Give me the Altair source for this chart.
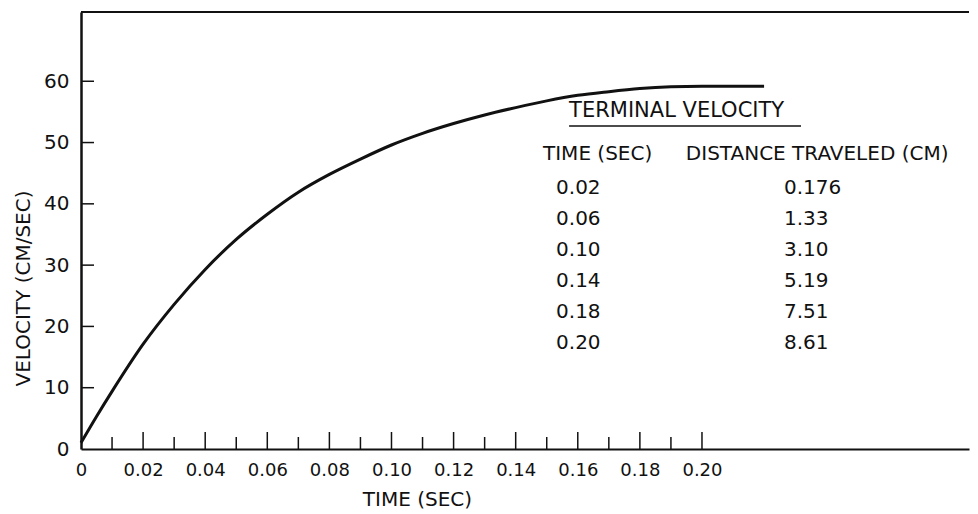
import altair as alt
import pandas as pd

# ---- data ----
time_s = [0.0, 0.005, 0.01, 0.02, 0.03, 0.04, 0.05, 0.06, 0.07, 0.08, 0.09, 0.10,
          0.11, 0.12, 0.13, 0.14, 0.15, 0.16, 0.17, 0.18, 0.19, 0.20, 0.21, 0.22]
velocity = [1.0, 5.3, 9.4, 17.1, 23.6, 29.3, 34.2, 38.3, 41.9, 44.8, 47.3, 49.6,
            51.5, 53.1, 54.5, 55.7, 56.8, 57.7, 58.3, 58.8, 59.1, 59.2, 59.2, 59.2]

x_label_values = [0.0, 0.02, 0.04, 0.06, 0.08, 0.10, 0.12, 0.14, 0.16, 0.18, 0.20]
x_minor_ticks = [0.01, 0.03, 0.05, 0.07, 0.09, 0.11, 0.13, 0.15, 0.17, 0.19]
x_major_ticks = [0.02, 0.04, 0.06, 0.08, 0.10, 0.12, 0.14, 0.16, 0.18, 0.20]
y_label_values = [0, 10, 20, 30, 40, 50, 60]
y_ticks = [10, 20, 30, 40, 50, 60]

table_title = "TERMINAL VELOCITY"
table_headers = ["TIME (SEC)", "DISTANCE TRAVELED (CM)"]
table_time = ["0.02", "0.06", "0.10", "0.14", "0.18", "0.20"]
table_distance = ["0.176", "1.33", "3.10", "5.19", "7.51", "8.61"]

# ---- layout ----
W, H = 888, 437
X_MAX, Y_MAX = 0.286, 71.3
FONT = "DejaVu Sans"
INK = "#111111"

xs = alt.Scale(domain=[0, X_MAX], nice=False, zero=False)
ys = alt.Scale(domain=[0, Y_MAX], nice=False, zero=False)

curve_df = pd.DataFrame({"t": time_s, "v": velocity})

curve = alt.Chart(curve_df).mark_line(
    color=INK, strokeWidth=3, interpolate="monotone"
).encode(
    x=alt.X("t:Q", scale=xs, axis=alt.Axis(
        values=x_label_values,
        labelExpr="datum.value == 0 ? '0' : format(datum.value, '.2f')",
        ticks=False, tickSize=0, grid=False, domain=True,
        domainColor=INK, domainWidth=2,
        labelFont=FONT, labelFontSize=18, labelColor=INK, labelPadding=12,
        labelFlush=False,
        title="TIME (SEC)", titleFont=FONT, titleFontSize=20, titleFontWeight="normal",
        titleColor=INK, titleX=336, titleY=50, titleBaseline="middle", titleAlign="center",
    )),
    y=alt.Y("v:Q", scale=ys, axis=alt.Axis(
        values=y_label_values, format="d",
        ticks=False, tickSize=0, grid=False, domain=True,
        domainColor=INK, domainWidth=2.5,
        labelFont=FONT, labelFontSize=20, labelColor=INK, labelPadding=12,
        labelFlush=False,
        title="VELOCITY (CM/SEC)", titleFont=FONT, titleFontSize=20,
        titleFontWeight="normal", titleColor=INK, titleAngle=270,
        titleX=-58, titleY=276, titleBaseline="middle", titleAlign="center",
    )),
)

ytick_layer = alt.Chart(pd.DataFrame({"v": y_ticks})).mark_rule(
    color=INK, strokeWidth=1.5
).encode(x=alt.value(0), x2=alt.value(13), y=alt.Y("v:Q", scale=ys))

xmajor_layer = alt.Chart(pd.DataFrame({"t": x_major_ticks})).mark_rule(
    color=INK, strokeWidth=1.5
).encode(x=alt.X("t:Q", scale=xs), y=alt.value(H), y2=alt.value(H - 17))

xminor_layer = alt.Chart(pd.DataFrame({"t": x_minor_ticks})).mark_rule(
    color=INK, strokeWidth=1.5
).encode(x=alt.X("t:Q", scale=xs), y=alt.value(H), y2=alt.value(H - 12))

top_spine = alt.Chart(pd.DataFrame({"a": [0]})).mark_rule(
    color=INK, strokeWidth=2
).encode(x=alt.value(0), x2=alt.value(W), y=alt.value(0))

# table (positions in data units)
TITLE_T, TITLE_V = 0.1572, 55.1
UNDER_T0, UNDER_T1, UNDER_V = 0.1572, 0.2319, 52.7
HEAD_T = [0.1488, 0.1948]
HEAD_V = 48.1
COL_T = [0.153, 0.2264]
ROW_V0, ROW_DV = 42.6, 5.07

title_df = pd.DataFrame({"t": [TITLE_T], "v": [TITLE_V], "s": [table_title]})
head_df = pd.DataFrame({"t": HEAD_T, "v": [HEAD_V, HEAD_V], "s": table_headers})
rows = []
for i, (a, b) in enumerate(zip(table_time, table_distance)):
    rows.append({"t": COL_T[0], "v": ROW_V0 - i * ROW_DV, "s": a})
    rows.append({"t": COL_T[1], "v": ROW_V0 - i * ROW_DV, "s": b})
rows_df = pd.DataFrame(rows)

title_text = alt.Chart(title_df).mark_text(
    align="left", baseline="middle", font=FONT, fontSize=21, color=INK
).encode(x=alt.X("t:Q", scale=xs), y=alt.Y("v:Q", scale=ys), text="s:N")

body_text = alt.Chart(pd.concat([head_df, rows_df], ignore_index=True)).mark_text(
    align="left", baseline="middle", font=FONT, fontSize=20, color=INK
).encode(x=alt.X("t:Q", scale=xs), y=alt.Y("v:Q", scale=ys), text="s:N")

underline = alt.Chart(pd.DataFrame({"t": [UNDER_T0], "t2": [UNDER_T1], "v": [UNDER_V]})).mark_rule(
    color=INK, strokeWidth=1.5
).encode(x=alt.X("t:Q", scale=xs), x2="t2:Q", y=alt.Y("v:Q", scale=ys))

chart = alt.layer(
    curve, ytick_layer, xmajor_layer, xminor_layer, top_spine,
    title_text, body_text, underline
).properties(
    width=W, height=H,
    padding={"left": 5, "top": 3, "right": 0, "bottom": 0},
    background="white",
).configure_view(stroke=None)

chart.save("out.html", embed_options={"renderer": "svg", "actions": False})
